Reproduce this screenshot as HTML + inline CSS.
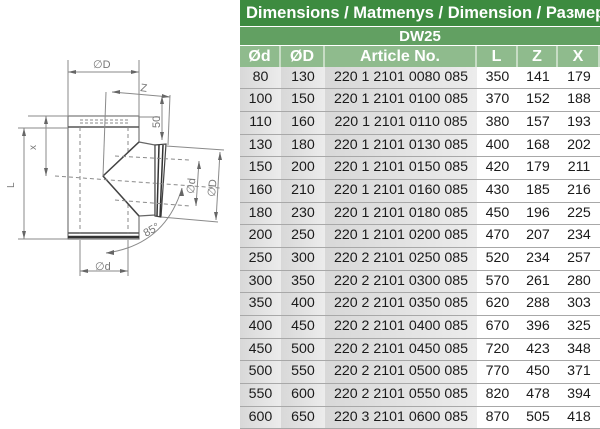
<!DOCTYPE html>
<html><head><meta charset="utf-8"><style>
html,body{margin:0;padding:0;background:#fff;width:600px;height:429px;overflow:hidden;position:relative;font-family:"Liberation Sans",sans-serif}
#tbl{position:absolute;left:240px;top:0;width:360px;height:429px;overflow:hidden}
.r{position:absolute;left:0;width:380px;display:flex}
.c{box-sizing:border-box;text-align:center;white-space:nowrap}
.title{top:0;height:26px;background:#3d8b40;color:#fff;font-weight:bold;font-size:16.5px;line-height:26px;padding-left:6px;white-space:nowrap;width:420px;position:absolute;left:0;box-sizing:border-box}
.dw{top:26px;height:19px;background:#62a062;color:#fff;font-weight:bold;font-size:15px;line-height:19px;text-align:center;width:360px;position:absolute;left:0;border-top:1px solid #fff}
.hd{top:45px;height:21px;background:#8fbb8d;color:#fff;font-weight:bold;font-size:16px;line-height:21px;border-top:1px solid #fff}
.hd .c{border-right:2px solid #c7ddc5}
.d{height:22.67px;line-height:21px;font-size:14.2px;color:#1a1a1a;border-bottom:1.6px solid #a8a8a8;box-sizing:border-box}
.g{background:linear-gradient(90deg,#d8d8d8,#ececec)}
.w{background:#fff}
.w1{width:41px}.w2{width:44px}.w3{width:152px}.w4{width:41px}.w5{width:40px}.w6{width:42px}
</style></head><body>
<svg width="240" height="300" style="position:absolute;left:0;top:40px" viewBox="0 40 240 300">
<g fill="none" stroke="#8a8a8a" stroke-width="1">
<rect x="68" y="116" width="71" height="123" stroke="#777" stroke-width="1.2"/>
<line x1="68" y1="127" x2="139" y2="127" stroke="#555" stroke-width="1.5"/>
<line x1="80" y1="120" x2="128" y2="120" stroke-dasharray="3,2"/>
<line x1="80" y1="123" x2="128" y2="123" stroke-dasharray="3,2"/>
<line x1="68" y1="233" x2="139" y2="233" stroke="#555" stroke-width="1.5"/>
<line x1="68" y1="237" x2="139" y2="237" stroke="#333" stroke-width="2.5"/>
<line x1="80" y1="127" x2="80" y2="234" stroke-dasharray="4,3"/>
<line x1="128" y1="127" x2="128" y2="234" stroke-dasharray="4,3"/>
<polygon points="139,142 155,145 155,215 139,216 103,176" fill="#fff" stroke="#666" stroke-width="1.2"/>
<line x1="103" y1="176" x2="139" y2="142" stroke="#444" stroke-width="1.5"/>
<line x1="103" y1="176" x2="139" y2="216" stroke="#444" stroke-width="1.5"/>
<polygon points="155,145 166,144 161,217 155,216" fill="#fff" stroke="#444" stroke-width="1.2"/>
<line x1="159" y1="145" x2="157" y2="216" stroke="#333" stroke-width="1.5"/>
<line x1="163" y1="145" x2="160" y2="217" stroke="#333" stroke-width="1.5"/>
<line x1="115" y1="156" x2="190" y2="160" stroke-dasharray="4,3"/>
<line x1="115" y1="200" x2="190" y2="206" stroke-dasharray="4,3"/>
<line x1="55" y1="176" x2="220" y2="188" stroke-dasharray="4,3"/>
<line x1="68" y1="60" x2="68" y2="116"/><line x1="139" y1="60" x2="139" y2="116"/>
<line x1="68" y1="72" x2="139" y2="72"/>
<line x1="112" y1="92" x2="170" y2="97"/>
<line x1="106" y1="92" x2="103" y2="176"/><line x1="170" y1="95" x2="168" y2="145"/>
<line x1="162" y1="96" x2="162" y2="140"/>
<line x1="139" y1="117" x2="160" y2="117"/>
<line x1="28" y1="116" x2="68" y2="116"/>
<line x1="46" y1="116" x2="46" y2="176"/>
<line x1="18" y1="128" x2="68" y2="128"/>
<line x1="24" y1="128" x2="24" y2="239"/>
<line x1="18" y1="239" x2="68" y2="239"/>
<line x1="80" y1="240" x2="80" y2="276"/><line x1="128" y1="240" x2="128" y2="276"/>
<line x1="80" y1="271" x2="128" y2="271"/>
<line x1="166" y1="146" x2="224" y2="150"/><line x1="161" y1="217" x2="218" y2="222"/>
<line x1="220" y1="152" x2="216" y2="220"/>
<line x1="199" y1="161" x2="196" y2="206"/>
<path d="M106 253 Q165 245 182 188"/>
</g>
<g fill="#666">
<polygon points="68,72 76,70 76,74"/><polygon points="139,72 131,70 131,74"/>
<polygon points="112,92 120,90 120,94"/><polygon points="170,97 162,94 162,98"/>
<polygon points="162,96 160,104 164,104"/><polygon points="162,140 160,132 164,132"/>
<polygon points="46,116 44,124 48,124"/><polygon points="46,176 44,168 48,168"/>
<polygon points="24,128 22,136 26,136"/><polygon points="24,239 22,231 26,231"/>
<polygon points="80,271 88,269 88,273"/><polygon points="128,271 120,269 120,273"/>
<polygon points="220,152 218,160 222,160"/><polygon points="216,220 214,212 218,212"/>
<polygon points="199,161 197,169 201,169"/><polygon points="196,206 194,198 198,198"/>
<polygon points="106,253 114,250 114,255"/><polygon points="182,188 179,196 184,196"/>
</g>
<g fill="#777" font-size="11" font-family="Liberation Sans,sans-serif">
<text x="93" y="68">∅D</text>
<text x="140" y="91" transform="rotate(8 140 91)">Z</text>
<text x="160" y="128" transform="rotate(-90 160 128)">50</text>
<text x="36" y="150" transform="rotate(-90 36 150)" font-size="10">x</text>
<text x="14" y="188" transform="rotate(-90 14 188)" font-size="10">L</text>
<text x="95" y="270">∅d</text>
<text x="194" y="194" transform="rotate(-85 194 194)">∅d</text>
<text x="215" y="197" transform="rotate(-85 215 197)">∅D</text>
<text x="146" y="237" transform="rotate(-30 146 237)">85°</text>
</g>
</svg>
<div id="tbl">
<div class="title">Dimensions / Matmenys / Dimension / Размеры</div>
<div class="dw">DW25</div>
<div class="r hd" style="position:absolute"><div class="c w1">Ød</div><div class="c w2">ØD</div><div class="c w3">Article No.</div><div class="c w4">L</div><div class="c w5">Z</div><div class="c w6">X</div></div>
<div id="rows"></div>
</div>
<script>
var d=[["80","130","220 1 2101 0080 085","350","141","179"],["100","150","220 1 2101 0100 085","370","152","188"],["110","160","220 1 2101 0110 085","380","157","193"],["130","180","220 1 2101 0130 085","400","168","202"],["150","200","220 1 2101 0150 085","420","179","211"],["160","210","220 1 2101 0160 085","430","185","216"],["180","230","220 1 2101 0180 085","450","196","225"],["200","250","220 1 2101 0200 085","470","207","234"],["250","300","220 2 2101 0250 085","520","234","257"],["300","350","220 2 2101 0300 085","570","261","280"],["350","400","220 2 2101 0350 085","620","288","303"],["400","450","220 2 2101 0400 085","670","396","325"],["450","500","220 2 2101 0450 085","720","423","348"],["500","550","220 2 2101 0500 085","770","450","371"],["550","600","220 2 2101 0550 085","820","478","394"],["600","650","220 3 2101 0600 085","870","505","418"]];
var h="";d.forEach(function(r,i){h+='<div class="r d" style="top:'+(66.7+i*22.67)+'px"><div class="c w1 g">'+r[0]+'</div><div class="c w2 g">'+r[1]+'</div><div class="c w3 g">'+r[2]+'</div><div class="c w4 w">'+r[3]+'</div><div class="c w5 w">'+r[4]+'</div><div class="c w6 w">'+r[5]+'</div></div>';});
document.getElementById("rows").innerHTML=h;
</script>
</body></html>
